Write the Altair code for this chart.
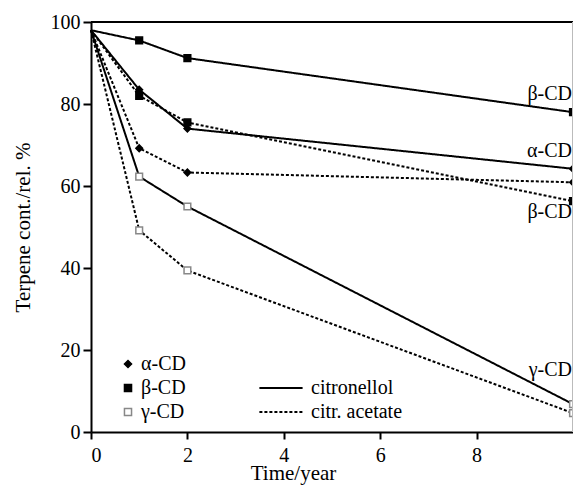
import altair as alt
import pandas as pd

years = [0, 1, 2, 10]
cit_alpha = [98, 83.5, 74.0, 64.2]
cit_beta = [98, 95.5, 91.2, 78.0]
cit_gamma = [98, 62.3, 55.0, 6.8]
ace_alpha = [98, 69.2, 63.3, 60.9]
ace_beta = [98, 82.0, 75.5, 56.3]
ace_gamma = [98, 49.2, 39.4, 4.6]

cds = ["α-CD", "β-CD", "γ-CD"]
compounds = ["citronellol", "citr. acetate"]

label_text = ["β-CD", "α-CD", "β-CD", "γ-CD"]
label_x = [9.98, 9.98, 9.98, 9.98]
label_y = [82.4, 68.6, 53.7, 15.2]

series = {
    ("citronellol", "α-CD"): cit_alpha,
    ("citronellol", "β-CD"): cit_beta,
    ("citronellol", "γ-CD"): cit_gamma,
    ("citr. acetate", "α-CD"): ace_alpha,
    ("citr. acetate", "β-CD"): ace_beta,
    ("citr. acetate", "γ-CD"): ace_gamma,
}
rows = []
for (comp, cd), vals in series.items():
    for t, v in zip(years, vals):
        rows.append({"compound": comp, "cd": cd, "t": t, "v": v, "key": comp + cd})
df = pd.DataFrame(rows)
lab = pd.DataFrame({"text": label_text, "t": label_x, "v": label_y})

W, H = 482, 410
FONT = "Liberation Serif"

xs = alt.X("t:Q", scale=alt.Scale(domain=[0, 10], nice=False),
           axis=alt.Axis(values=[0, 2, 4, 6, 8], title="Time/year", titleX=202, titleY=47,
                         titleBaseline="alphabetic", tickSize=7, labelPadding=6,
                         labelFont=FONT, titleFont=FONT))
ys = alt.Y("v:Q", scale=alt.Scale(domain=[0, 100], nice=False),
           axis=alt.Axis(values=[0, 20, 40, 60, 80, 100], title="Terpene cont./rel. %",
                         tickSize=8, labelPadding=3, titleX=-58,
                         labelFont=FONT, titleFont=FONT))

shape_legend = alt.Legend(title=None, orient="none", legendX=27, legendY=332,
                          rowPadding=4, labelOffset=3, symbolSize=50, symbolStrokeWidth=1.5,
                          labelFont=FONT)

lines = alt.Chart(df).mark_line(color="black", strokeWidth=2).encode(
    x=xs, y=ys,
    detail="key:N",
    strokeDash=alt.StrokeDash("compound:N",
        scale=alt.Scale(domain=compounds, range=[[1, 0], [3, 2]]),
        legend=alt.Legend(title=None, orient="none", legendX=180, legendY=356,
                          symbolType="M-2.4,0H2.4", symbolSize=324, symbolStrokeWidth=2,
                          symbolStrokeColor="black", symbolFillColor="transparent",
                          rowPadding=4, labelOffset=20, labelFont=FONT)),
)

pts = alt.Chart(df[df.t > 0]).mark_point(filled=False, opacity=1, size=45, strokeWidth=1.5).encode(
    x="t:Q", y="v:Q",
    shape=alt.Shape("cd:N", scale=alt.Scale(domain=cds, range=["diamond", "square", "square"]),
                    legend=shape_legend),
    fill=alt.Fill("cd:N", scale=alt.Scale(domain=cds, range=["black", "black", "white"]),
                  legend=shape_legend),
    stroke=alt.Stroke("cd:N", scale=alt.Scale(domain=cds, range=["black", "black", "#888888"]),
                      legend=shape_legend),
)

texts = alt.Chart(lab).mark_text(align="right", baseline="middle", font=FONT, fontSize=20,
                                 color="black").encode(x="t:Q", y="v:Q", text="text:N")

top = alt.Chart(lab).mark_rule(color="black", strokeWidth=2).encode(
    x=alt.value(0), x2=alt.value(W), y=alt.value(0))
right = alt.Chart(lab).mark_rule(color="#bbbbbb", strokeWidth=1).encode(
    x=alt.value(W - 0.5), y=alt.value(0), y2=alt.value(H))

chart = alt.layer(lines, pts, texts, top, right).properties(
    width=W, height=H,
    autosize=alt.AutoSizeParams(type="none"),
    padding={"left": 83, "top": 14, "right": 0, "bottom": 53},
).configure(font=FONT).configure_view(stroke=None).configure_axis(
    grid=False, domainColor="black", domainWidth=2, tickColor="black", tickWidth=2,
    labelFontSize=20, labelColor="black",
    titleFontSize=21, titleColor="black", titleFontWeight="normal",
).configure_legend(
    labelFontSize=20, labelColor="black",
)

chart.save("out.html", embed_options={"renderer": "svg", "actions": False})
